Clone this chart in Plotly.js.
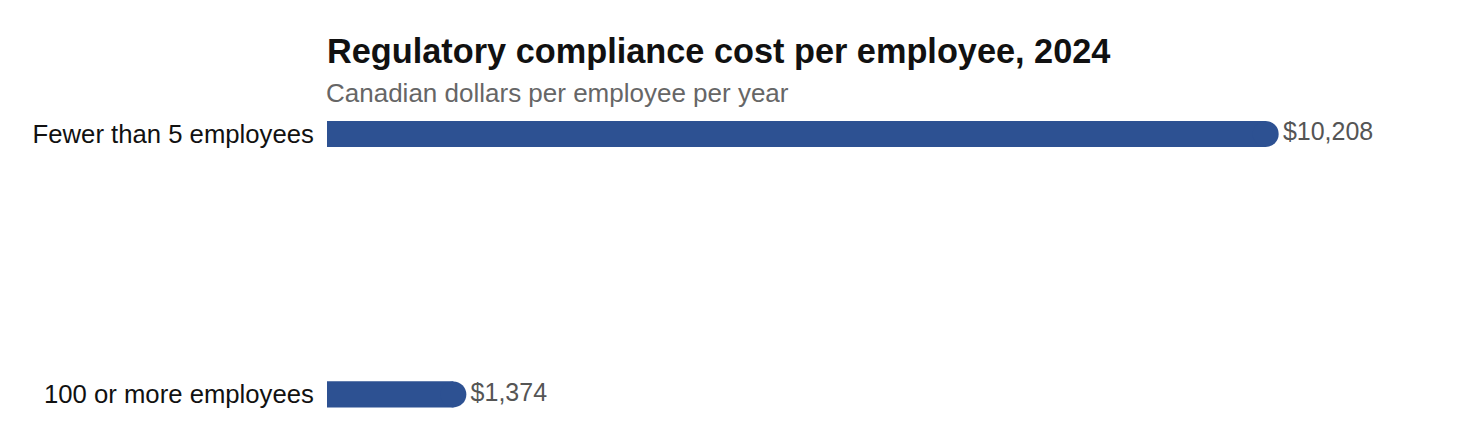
<!DOCTYPE html>
<html>
<head>
<meta charset="utf-8">
<script src="https://cdn.plot.ly/plotly-3.0.1.min.js"></script>
<style>
  html, body { margin: 0; padding: 0; background: #fff; }
  #chart { width: 1467px; height: 446px; }
</style>
</head>
<body>
<div id="chart"></div>
<script>
// data
const categories = ['Fewer than 5 employees', '100 or more employees']
const costs = [10208, 1374]
const costLabels = ['$10,208', '$1,374']

const barColor = '#2d5192'
const font = 'Liberation Sans, Arial, Helvetica, sans-serif'

// flat bar from zero to the value
const bars = {
    type: 'bar',
    orientation: 'h',
    y: categories,
    x: costs,
    width: 0.1,
    marker: { color: barColor },
    hoverinfo: 'skip'
}

// round cap at the end of each bar, carries the value label
const caps = {
    type: 'scatter',
    mode: 'markers+text',
    y: categories,
    x: costs,
    text: costLabels,
    textposition: 'middle right',
    textfont: { family: font, size: 25, color: '#555555' },
    marker: { color: barColor, size: 26, symbol: 'circle', line: { width: 0 } },
    cliponaxis: false,
    hoverinfo: 'skip'
}

const layout = {
    width: 1467,
    height: 446,
    margin: { l: 327, r: 100, t: 110, b: 30 },
    paper_bgcolor: '#ffffff',
    plot_bgcolor: '#ffffff',
    showlegend: false,
    font: { family: font, color: '#000000' },
    title: {
        text: '<b>Regulatory compliance cost per employee, 2024</b>',
        font: { family: font, size: 34.3, color: '#111111' },
        xref: 'paper', x: 0, xanchor: 'left',
        yref: 'container', y: 0.9126, yanchor: 'top'
    },
    annotations: [{
        text: 'Canadian dollars per employee per year',
        font: { family: font, size: 26, color: '#666666' },
        xref: 'paper', x: 0, xanchor: 'left', xshift: -3,
        yref: 'paper', y: 1.0556, yanchor: 'middle',
        showarrow: false
    }],
    xaxis: {
        range: [0, 11310],
        visible: false,
        fixedrange: true
    },
    yaxis: {
        type: 'category',
        range: [1.083, -0.092],
        showgrid: false,
        zeroline: false,
        showline: false,
        ticks: 'outside',
        ticklen: 7,
        tickcolor: 'rgba(0,0,0,0)',
        tickfont: { family: font, size: 25.7, color: '#111111' },
        fixedrange: true
    }
}

Plotly.newPlot('chart', [bars, caps], layout, { displayModeBar: false, staticPlot: true })
</script>
</body>
</html>
